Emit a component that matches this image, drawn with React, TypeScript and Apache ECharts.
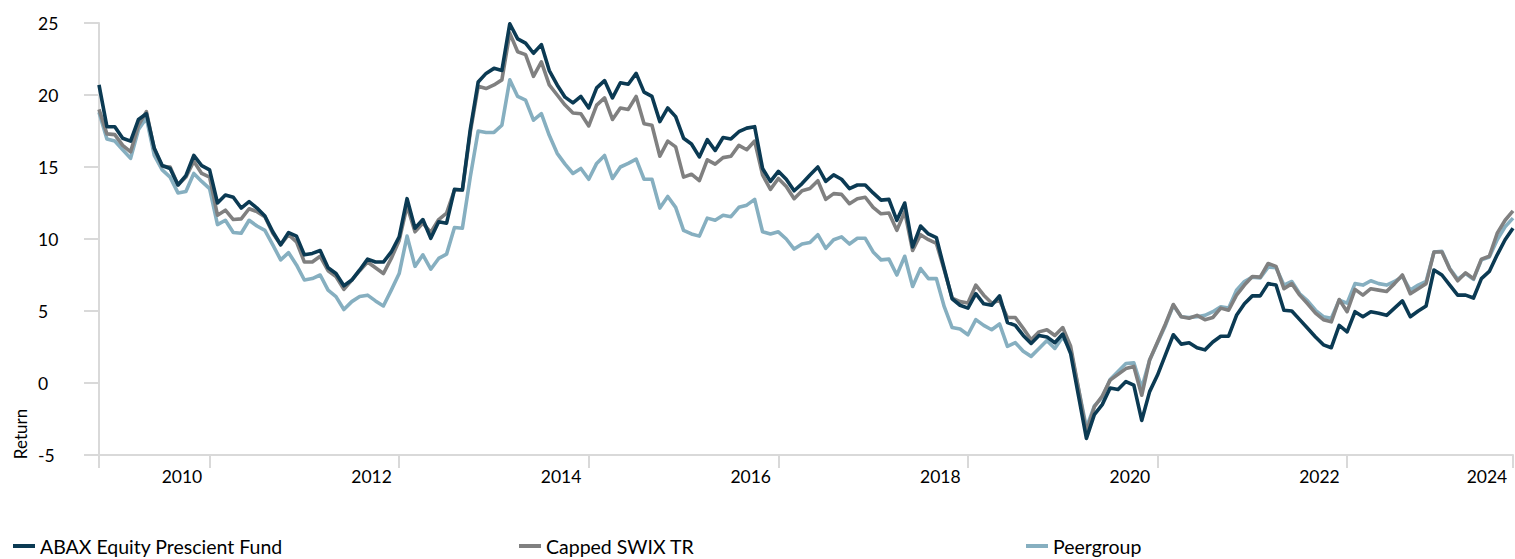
import React, { useEffect, useRef } from "react";
import * as echarts from "echarts";

// Monthly observations, March 2009 .. February 2024
const START_YEAR = 2009;
const START_MONTH = 3;
const COUNT = 180;
const months: string[] = [];
for (let i = 0; i < COUNT; i++) {
  const m = START_MONTH - 1 + i;
  months.push(`${START_YEAR + Math.floor(m / 12)}-${String((m % 12) + 1).padStart(2, "0")}`);
}

const abax: number[] = [
  20.7, 17.8, 17.8, 17.0, 16.8, 18.3, 18.7, 16.3, 15.1, 14.9,
  13.75, 14.4, 15.8, 15.1, 14.8, 12.5, 13.05, 12.9, 12.15, 12.6,
  12.15, 11.6, 10.5, 9.6, 10.45, 10.2, 8.9, 9.0, 9.2, 8.0,
  7.6, 6.75, 7.15, 7.85, 8.6, 8.4, 8.4, 9.1, 10.15, 12.8,
  10.75, 11.35, 10.05, 11.2, 11.1, 13.45, 13.4, 17.6, 20.9, 21.5,
  21.85, 21.7, 24.95, 23.9, 23.6, 22.9, 23.5, 21.7, 20.7, 19.85,
  19.45, 19.9, 19.1, 20.5, 21.0, 19.8, 20.85, 20.75, 21.5, 20.2,
  19.9, 18.15, 19.1, 18.5, 17.0, 16.6, 15.7, 16.9, 16.15, 17.05,
  16.95, 17.45, 17.7, 17.8, 14.9, 14.0, 14.7, 14.15, 13.35, 13.85,
  14.45, 15.0, 14.0, 14.45, 14.15, 13.5, 13.75, 13.75, 13.2, 12.7,
  12.75, 11.3, 12.5, 9.45, 10.9, 10.35, 10.1, 7.95, 5.85, 5.4,
  5.2, 6.2, 5.5, 5.4, 6.05, 4.2, 4.0, 3.3, 2.75, 3.3,
  3.2, 2.8, 3.4, 2.05, -0.9, -3.85, -2.2, -1.5, -0.35, -0.45,
  0.1, -0.15, -2.6, -0.6, 0.55, 1.95, 3.35, 2.7, 2.8, 2.45,
  2.3, 2.85, 3.25, 3.25, 4.7, 5.5, 6.05, 6.05, 6.9, 6.8,
  5.05, 5.0, 4.4, 3.8, 3.2, 2.65, 2.45, 4.0, 3.55, 4.95,
  4.6, 4.95, 4.85, 4.7, 5.2, 5.7, 4.6, 5.0, 5.35, 7.85,
  7.5, 6.8, 6.1, 6.1, 5.9, 7.25, 7.75, 8.9, 9.95, 10.75,
];

const cappedSwix: number[] = [
  19.0, 17.3, 17.25, 16.5, 16.05, 17.9, 18.85, 16.25, 15.05, 15.0,
  13.75, 14.3, 15.4, 14.55, 14.3, 11.65, 12.0, 11.35, 11.4, 12.1,
  11.9, 11.55, 10.4, 9.6, 10.3, 9.8, 8.4, 8.4, 8.8, 7.8,
  7.4, 6.5, 7.15, 7.8, 8.4, 8.0, 7.6, 8.65, 9.9, 12.3,
  10.5, 11.1, 10.45, 11.35, 11.8, 13.4, 13.4, 17.4, 20.6, 20.45,
  20.7, 21.05, 24.3, 23.0, 22.8, 21.3, 22.3, 20.7, 20.0, 19.3,
  18.75, 18.7, 17.85, 19.3, 19.8, 18.3, 19.1, 19.0, 19.9, 18.0,
  17.9, 15.75, 16.8, 16.4, 14.3, 14.5, 14.05, 15.5, 15.2, 15.65,
  15.75, 16.5, 16.2, 16.8, 14.45, 13.45, 14.2, 13.65, 12.8, 13.35,
  13.5, 14.05, 12.75, 13.15, 13.1, 12.45, 12.8, 12.9, 12.2, 11.75,
  11.8, 10.6, 11.9, 9.2, 10.3, 9.95, 9.7, 7.85, 5.9, 5.65,
  5.55, 6.8, 6.1, 5.55, 5.75, 4.55, 4.55, 3.8, 3.0, 3.55,
  3.7, 3.3, 3.85, 2.55, -0.4, -3.4, -1.65, -0.9, 0.2, 0.6,
  1.0, 1.15, -0.85, 1.6, 2.85, 4.1, 5.45, 4.6, 4.5, 4.7,
  4.4, 4.55, 5.2, 5.05, 6.1, 6.8, 7.4, 7.35, 8.3, 8.1,
  6.55, 6.9, 6.1, 5.5, 4.85, 4.4, 4.25, 5.8, 4.95, 6.5,
  6.1, 6.55, 6.45, 6.35, 6.9, 7.5, 6.2, 6.55, 6.9, 9.1,
  9.1, 7.9, 7.1, 7.65, 7.25, 8.6, 8.8, 10.4, 11.3, 11.95,
];

const peergroup: number[] = [
  18.8, 16.95, 16.8, 16.2, 15.6, 17.6, 18.4, 15.8, 14.8, 14.3,
  13.2, 13.3, 14.55, 14.0, 13.5, 11.0, 11.3, 10.45, 10.4, 11.3,
  10.9, 10.6, 9.6, 8.55, 9.05, 8.2, 7.15, 7.25, 7.5, 6.45,
  6.0, 5.1, 5.65, 6.0, 6.1, 5.7, 5.35, 6.45, 7.6, 10.2,
  8.1, 8.9, 7.9, 8.65, 8.95, 10.8, 10.75, 14.3, 17.5, 17.4,
  17.4, 17.9, 21.05, 19.9, 19.65, 18.25, 18.7, 17.2, 15.95, 15.2,
  14.55, 14.9, 14.15, 15.25, 15.8, 14.2, 15.0, 15.25, 15.55, 14.15,
  14.15, 12.15, 12.95, 12.2, 10.6, 10.35, 10.2, 11.45, 11.3, 11.65,
  11.55, 12.2, 12.35, 12.75, 10.5, 10.35, 10.5, 10.0, 9.3, 9.65,
  9.75, 10.3, 9.35, 9.95, 10.15, 9.65, 10.05, 10.05, 9.1, 8.55,
  8.6, 7.5, 8.8, 6.7, 7.95, 7.25, 7.25, 5.3, 3.85, 3.75,
  3.35, 4.4, 4.0, 3.7, 4.1, 2.55, 2.8, 2.2, 1.85, 2.4,
  2.95, 2.4, 3.2, 2.3, -0.4, -3.1, -1.6, -1.0, 0.25, 0.8,
  1.35, 1.4, -0.35, 1.6, 2.8, 4.0, 5.4, 4.6, 4.55, 4.6,
  4.7, 4.95, 5.3, 5.2, 6.45, 7.05, 7.35, 7.3, 8.05, 8.0,
  6.8, 7.05, 6.2, 5.7, 5.05, 4.6, 4.5, 5.75, 5.55, 6.9,
  6.8, 7.1, 6.9, 6.8, 7.05, 7.4, 6.45, 6.8, 7.05, 9.1,
  9.15, 7.95, 7.2, 7.6, 7.2, 8.55, 8.75, 9.95, 10.85, 11.45,
];

// x-axis: year labels (month-index positions) and tick marks
const yearLabels: string[] = ["2010", "2012", "2014", "2016", "2018", "2020", "2022", "2024"];
const yearLabelAt: number[] = [10.5, 34.5, 58.5, 82.5, 106.5, 130.5, 154.5, 175.7];
const tickAt: number[] = [0, 14, 38, 62, 86, 110, 134, 158, 179];

const NAMES = ["ABAX Equity Prescient Fund", "Capped SWIX TR", "Peergroup"];
const COLORS = ["#0B3A53", "#808080", "#86AFC0"];

const FONT = "Lato, 'Noto Sans', sans-serif";

export default function App() {
  const ref = useRef<HTMLDivElement>(null);

  useEffect(() => {
    if (!ref.current) return;
    const chart = echarts.init(ref.current, undefined, { renderer: "svg" });
    const toData = (arr: number[]) => arr.map((v, i) => [i, v]);
    const mkSeries = (idx: number, arr: number[]) => ({
      name: NAMES[idx],
      type: "line",
      data: toData(arr),
      showSymbol: false,
      symbol: "none",
      lineStyle: { color: COLORS[idx], width: 3.6, join: "round" },
      itemStyle: { color: COLORS[idx] },
      z: 10 - idx,
    });
    const legendBase = {
      orient: "horizontal",
      top: 536,
      padding: 0,
      icon: "rect",
      itemWidth: 22,
      itemHeight: 4,
      textStyle: { color: "#000", fontSize: 19.5, fontFamily: FONT },
    };
    chart.setOption({
      animation: false,
      textStyle: { fontFamily: FONT },
      grid: { left: 99, right: 2, top: 23, bottom: 104, containLabel: false },
      legend: [
        { ...legendBase, data: [NAMES[0]], left: 13 },
        { ...legendBase, data: [NAMES[1]], left: 519 },
        { ...legendBase, data: [NAMES[2]], left: 1026 },
      ],
      xAxis: {
        type: "value",
        min: 0,
        max: COUNT - 1,
        axisLine: { show: true, onZero: false, lineStyle: { color: "#D9D9D9", width: 2 } },
        axisTick: {
          show: true,
          customValues: tickAt,
          length: 13,
          lineStyle: { color: "#D9D9D9", width: 2 },
        },
        axisLabel: {
          show: true,
          customValues: yearLabelAt,
          formatter: (v: number) => {
            const k = yearLabelAt.findIndex((p) => Math.abs(p - v) < 1e-6);
            return k >= 0 ? yearLabels[k] : "";
          },
          margin: 12,
          color: "#000",
          fontSize: 17.5,
          fontFamily: FONT,
        },
        splitLine: { show: false },
      },
      yAxis: {
        type: "value",
        min: -5,
        max: 25,
        interval: 5,
        axisLine: { show: true, onZero: false, lineStyle: { color: "#D9D9D9", width: 2 } },
        axisTick: { show: true, length: 15, lineStyle: { color: "#D9D9D9", width: 2 } },
        axisLabel: {
          show: true,
          align: "left",
          margin: 61,
          color: "#000",
          fontSize: 17.5,
          fontFamily: FONT,
        },
        splitLine: { show: false },
      },
      graphic: [
        {
          type: "text",
          x: 20,
          y: 434,
          rotation: Math.PI / 2,
          style: {
            text: "Return",
            fill: "#000",
            fontSize: 17,
            fontFamily: FONT,
            align: "center",
            verticalAlign: "middle",
          },
        },
      ],
      series: [mkSeries(2, peergroup), mkSeries(1, cappedSwix), mkSeries(0, abax)],
    });
    return () => chart.dispose();
  }, []);

  return (
    <div
      ref={ref}
      style={{ position: "fixed", left: 0, top: 0, width: 1515, height: 559, background: "#fff" }}
    />
  );
}
